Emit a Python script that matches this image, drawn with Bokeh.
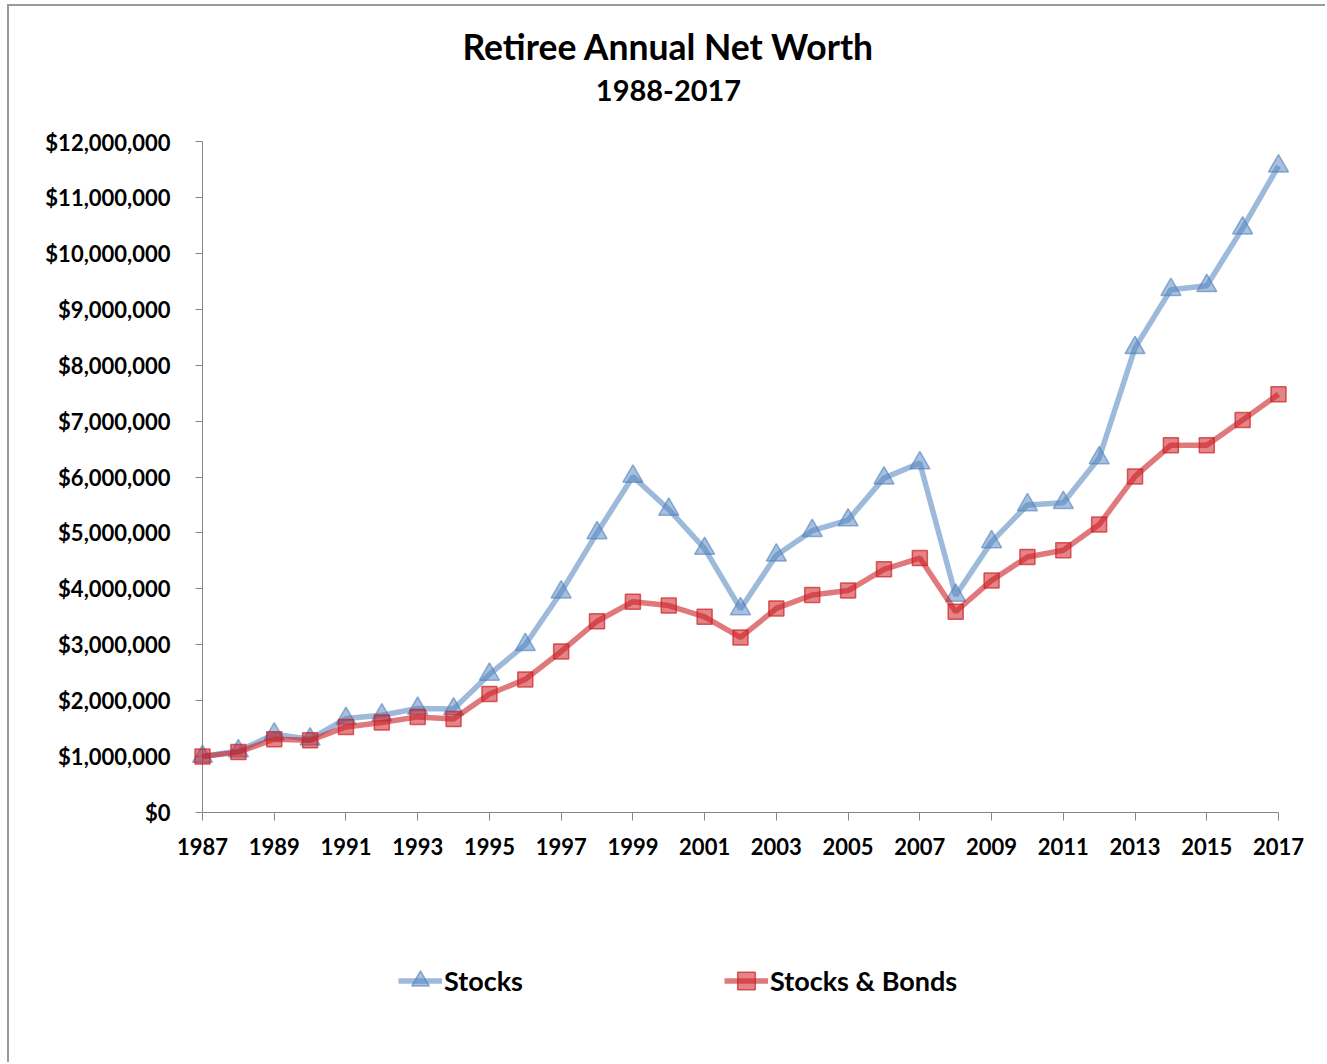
from bokeh.plotting import figure
from bokeh.models import (Range1d, FixedTicker, NumeralTickFormatter, Label,
                          Legend, LegendItem)
from bokeh.layouts import column
from bokeh.embed import file_html
from bokeh.resources import INLINE

years = list(range(1987, 2018))
stocks = [1.00, 1.10, 1.40, 1.31, 1.68, 1.74, 1.86, 1.85, 2.47, 3.00,
          3.94, 5.00, 6.01, 5.42, 4.72, 3.64, 4.60, 5.04, 5.23, 5.98,
          6.25, 3.88, 4.84, 5.50, 5.54, 6.34, 8.31, 9.35, 9.42, 10.45,
          11.56]
stocks_bonds = [1.00, 1.08, 1.31, 1.29, 1.53, 1.61, 1.71, 1.67, 2.12, 2.38,
                2.88, 3.42, 3.77, 3.70, 3.50, 3.13, 3.65, 3.89, 3.97, 4.35,
                4.55, 3.59, 4.15, 4.57, 4.69, 5.15, 6.01, 6.57, 6.57, 7.02,
                7.48]
stocks = [v * 1e6 for v in stocks]
stocks_bonds = [v * 1e6 for v in stocks_bonds]
x_ticks = years[::2]
y_ticks = [i * 1e6 for i in range(0, 13)]
title_text = "Retiree Annual Net Worth"
subtitle_text = "1988-2017"
series_names = ["Stocks", "Stocks & Bonds"]

FONT = "Lato"
AXIS_GRAY = "#868686"
FRAME_GRAY = "#9A9A9A"
BLUE = "#4F81BD"
RED = "#CC1F24"

OFF_L, OFF_T = 9, 6          # page offset of the chart-area frame
W = 1327 - OFF_L
TOP_H, MAIN_H = 124, 770
BOT_H = 1064 - OFF_T - TOP_H - MAIN_H
FRAME_L, FRAME_R = 202, 1278  # page x of the plot frame edges
B_LEFT = FRAME_L - OFF_L
B_RIGHT = 1327 - FRAME_R

line1 = dict(line_color=BLUE, line_alpha=0.55, line_width=5.5)
mark1 = dict(marker="triangle", size=20, fill_color=BLUE, fill_alpha=0.5,
             line_color=BLUE, line_alpha=0.6, line_width=1.5)
line2 = dict(line_color=RED, line_alpha=0.6, line_width=5.5)
mark2 = dict(marker="square", size=15, fill_color=RED, fill_alpha=0.55,
             line_color=RED, line_alpha=0.7, line_width=1.5)


def blank(height, border_top=False):
    f = figure(width=W, height=height, output_backend="svg", toolbar_location=None,
               x_axis_location=None, y_axis_location=None,
               x_range=Range1d(0, 1), y_range=Range1d(0, 1),
               min_border_left=B_LEFT, min_border_right=B_RIGHT,
               min_border_top=0, min_border_bottom=0)
    f.grid.visible = False
    f.outline_line_color = None
    f.background_fill_color = "white"
    f.border_fill_color = "white"
    st = {"border-left": "2px solid " + FRAME_GRAY}
    if border_top:
        st["border-top"] = "2px solid " + FRAME_GRAY
    f.styles = st
    f.margin = ((OFF_T - 2) if border_top else 0, 0, 0, OFF_L - 2)
    return f


# ---- titles (label x measured from the frame's left edge) ----
t = blank(TOP_H, border_top=True)
t.add_layout(Label(x=668 - FRAME_L, y=TOP_H - (46 - OFF_T), x_units="screen",
                   y_units="screen", text=title_text, text_font=FONT,
                   text_font_style="bold", text_font_size="35.5px",
                   text_align="center", text_baseline="middle",
                   text_color="black"))
t.add_layout(Label(x=668 - FRAME_L, y=TOP_H - (90 - OFF_T), x_units="screen",
                   y_units="screen", text=subtitle_text, text_font=FONT,
                   text_font_style="bold", text_font_size="29px",
                   text_align="center", text_baseline="middle",
                   text_color="black"))

# ---- main chart ----
main_top = OFF_T + TOP_H
p = figure(width=W, height=MAIN_H, output_backend="svg", toolbar_location=None,
           x_range=Range1d(years[0], years[-1]),
           y_range=Range1d(0, 12e6),
           min_border_left=B_LEFT, min_border_right=B_RIGHT,
           min_border_top=143 - main_top,
           min_border_bottom=main_top + MAIN_H - 814)
p.styles = {"border-left": "2px solid " + FRAME_GRAY}
p.margin = (0, 0, 0, OFF_L - 2)
p.outline_line_color = None
p.grid.visible = False
p.background_fill_color = "white"
p.border_fill_color = "white"

xa = p.xaxis[0]
xa.ticker = FixedTicker(ticks=x_ticks)
xa.axis_line_color = AXIS_GRAY
xa.major_tick_line_color = AXIS_GRAY
xa.major_tick_out = 8
xa.major_tick_in = 0
xa.minor_tick_line_color = None
xa.major_label_text_font = FONT
xa.major_label_text_font_style = "bold"
xa.major_label_text_font_size = "22px"
xa.major_label_text_color = "black"
xa.major_label_standoff = 17

ya = p.yaxis[0]
ya.ticker = FixedTicker(ticks=y_ticks)
ya.formatter = NumeralTickFormatter(format="$0,0")
ya.axis_line_color = AXIS_GRAY
ya.major_tick_line_color = AXIS_GRAY
ya.major_tick_out = 7
ya.major_tick_in = 0
ya.minor_tick_line_color = None
ya.major_label_text_font = FONT
ya.major_label_text_font_style = "bold"
ya.major_label_text_font_size = "22px"
ya.major_label_text_color = "black"
ya.major_label_standoff = 25

# overlay level so that edge markers are not clipped by the frame
p.line(years, stocks, level="overlay", **line1)
p.scatter(years, stocks, level="overlay", **mark1)
p.line(years, stocks_bonds, level="overlay", **line2)
p.scatter(years, stocks_bonds, level="overlay", **mark2)

# ---- legend (its own strip; the series there lie outside its view) ----
b = blank(BOT_H)
e1 = b.line(years, stocks, **line1)
s1 = b.scatter(years, stocks, **mark1)
e2 = b.line(years, stocks_bonds, **line2)
s2 = b.scatter(years, stocks_bonds, **mark2)
bot_top = main_top + MAIN_H
GH = 45
legend = Legend(items=[LegendItem(label=series_names[0], renderers=[e1, s1], index=0),
                       LegendItem(label=series_names[1], renderers=[e2, s2], index=0)],
                orientation="horizontal",
                location=(398 - FRAME_L, BOT_H - (982 - bot_top) - GH / 2),
                glyph_width=44, glyph_height=GH, label_standoff=2,
                label_width=280, spacing=0, padding=0, margin=0,
                border_line_color=None, background_fill_alpha=0,
                label_text_font=FONT, label_text_font_style="bold",
                label_text_font_size="27px", label_text_color="black")
b.add_layout(legend, "center")

layout = column(t, p, b, spacing=0)
open("out.html", "w").write(file_html(layout, INLINE))
